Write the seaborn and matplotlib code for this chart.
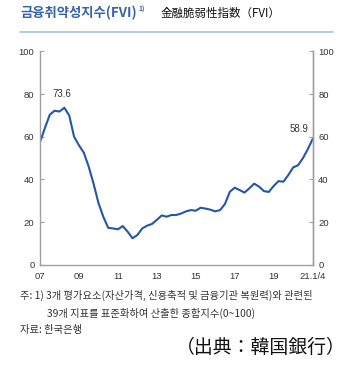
import matplotlib
matplotlib.use("Agg")
import matplotlib.pyplot as plt
import seaborn as sns
import numpy as np
import pandas as pd

# ---- data (quarterly, 2007Q1 .. 2021Q1) ----
fvi_values = [
    57.5, 64.0, 70.3, 72.2, 71.8, 73.6, 70.0, 60.0, 56.0, 52.5,
    46.0, 38.0, 29.0, 22.5, 17.3, 17.0, 16.6, 18.1, 15.5, 12.4,
    13.9, 17.0, 18.3, 19.1, 21.0, 23.1, 22.5, 23.3, 23.3, 24.0,
    25.0, 25.6, 25.3, 26.7, 26.3, 25.8, 25.0, 25.6, 28.5, 34.2,
    36.1, 35.0, 33.8, 35.8, 38.0, 36.6, 34.5, 34.1, 36.9, 39.2,
    38.9, 42.0, 45.6, 46.6, 49.9, 54.1, 58.9,
]
start_year = 2007
tick_years = [2007, 2009, 2011, 2013, 2015, 2017, 2019, 2021]
tick_labels = ["07", "09", "11", "13", "15", "17", "19", "21.1/4"]
y_ticks = [0, 20, 40, 60, 80, 100]
peak_label = "73.6"
last_label = "58.9"

title_ko = "금융취약성지수(FVI)"
title_jp = "金融脆弱性指数（FVI）"
note1 = "주: 1) 3개 평가요소(자산가격, 신용축적 및 금융기관 복원력)와 관련된"
note2 = "39개 지표를 표준화하여 산출한 종합지수(0~100)"
note3 = "자료: 한국은행"
source_jp = "（出典：韓国銀行）"

df = pd.DataFrame({
    "t": [start_year + i / 4 for i in range(len(fvi_values))],
    "fvi": fvi_values,
})

sns.set_theme(style="white")
plt.rcParams["font.family"] = ["Liberation Sans", "DejaVu Sans"]

W, H = 350, 367
fig = plt.figure(figsize=(W / 100, H / 100), dpi=100)

ax = fig.add_axes([40 / W, 1 - 264.7 / H, (312.6 - 40) / W, (264.7 - 51.4) / H])
sns.lineplot(data=df, x="t", y="fvi", ax=ax, color="#2356a8", linewidth=1.5)

ax.set_xlim(2007, 2021)
ax.set_ylim(0, 100)
ax.set_xlabel("")
ax.set_ylabel("")
ax.set_xticks(tick_years)
ax.set_xticklabels(tick_labels)
ax.set_yticks(y_ticks)
spine_c = "#a0a0a0"
for s in ["left", "right", "bottom"]:
    ax.spines[s].set_visible(True)
    ax.spines[s].set_color(spine_c)
    ax.spines[s].set_linewidth(1.0)
ax.spines["top"].set_visible(False)
ax.tick_params(axis="both", direction="in", length=3, width=0.8, color=spine_c,
               labelsize=6.8, labelcolor="#333333")
ax.tick_params(axis="x", pad=5)
ax.tick_params(axis="y", pad=4)
ax.grid(False)

ax2 = ax.twinx()
ax2.set_ylim(0, 100)
ax2.set_yticks(y_ticks)
for s in ["left", "top", "bottom"]:
    ax2.spines[s].set_visible(False)
ax2.spines["right"].set_color(spine_c)
ax2.spines["right"].set_linewidth(1.0)
ax2.tick_params(axis="y", direction="in", length=3, width=0.8, color=spine_c,
                labelsize=6.8, labelcolor="#333333", pad=4)
ax2.grid(False)

# value labels
i_peak = int(np.argmax(fvi_values))
ax.annotate(peak_label, xy=(df["t"][i_peak], fvi_values[i_peak]), xytext=(-2, 6),
            textcoords="offset points", ha="center", va="bottom", fontsize=7, color="#333333")
ax.annotate(last_label, xy=(df["t"].iloc[-1], fvi_values[-1]), xytext=(-3, 4),
            textcoords="offset points", ha="right", va="bottom", fontsize=7, color="#333333")

# titles
ko = ["Noto Sans CJK KR", "DejaVu Sans"]
jp = ["Noto Sans CJK JP", "DejaVu Sans"]
t1 = fig.text(20 / W, 1 - 13 / H, title_ko, family=ko, fontsize=9.6, fontweight="bold",
              color="#3463ae", ha="left", va="center")
fig.canvas.draw()
ax.annotate("1)", xy=(1, 1), xycoords=t1, xytext=(1, 0), textcoords="offset points",
            fontsize=4.8, fontweight="bold", color="#3463ae", ha="left", va="top", family=ko,
            annotation_clip=False)
fig.text(161 / W, 1 - 13 / H, title_jp, family=jp, fontsize=8.3, color="#111111",
         ha="left", va="center")
fig.add_artist(plt.Line2D([20 / W, 333 / W], [1 - 32.3 / H, 1 - 32.3 / H],
                          transform=fig.transFigure, color="#a9c1df", linewidth=1.2))

# notes
fig.text(20 / W, 1 - 295 / H, note1, family=ko, fontsize=7.4, color="#333333", ha="left", va="center")
fig.text(47 / W, 1 - 313 / H, note2, family=ko, fontsize=7.4, color="#333333", ha="left", va="center")
fig.text(20 / W, 1 - 330 / H, note3, family=ko, fontsize=7.4, color="#333333", ha="left", va="center")
fig.text(346 / W, 1 - 347 / H, source_jp, family=jp, fontsize=13.6, color="#111111", ha="right", va="center")

fig.savefig("out.png", dpi=100)
